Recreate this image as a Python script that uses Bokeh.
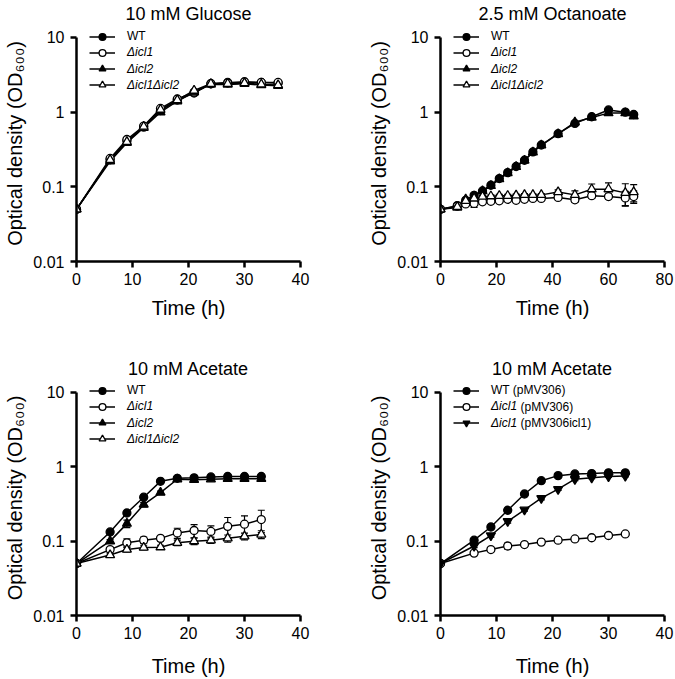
from bokeh.plotting import figure
from bokeh.models import (ColumnDataSource, Range1d, FixedTicker, Legend, LegendItem,
                          Whisker, TeeHead, Label)
from bokeh.layouts import column, row
from bokeh.embed import file_html
from bokeh.resources import INLINE

FONT = "Liberation Sans"

# ---------------- data ----------------
glu_t = [0, 6, 9, 12, 15, 18, 21, 24, 27, 30, 33, 36]
glu_wt = [0.05, 0.23, 0.41, 0.63, 1.05, 1.45, 1.80, 2.40, 2.50, 2.50, 2.50, 2.45]
glu_icl1 = [0.05, 0.24, 0.43, 0.65, 1.12, 1.50, 1.85, 2.40, 2.45, 2.55, 2.50, 2.50]
glu_icl2 = [0.05, 0.22, 0.39, 0.62, 1.00, 1.40, 1.85, 2.35, 2.35, 2.40, 2.30, 2.25]
glu_dko = [0.05, 0.23, 0.40, 0.64, 1.08, 1.45, 1.95, 2.40, 2.40, 2.45, 2.35, 2.30]
glu_wt_err = [0, 0.01, 0.02, 0.02, 0.04, 0.05, 0.06, 0.08, 0.10, 0.20, 0.10, 0.10]
glu_icl1_err = [0, 0.01, 0.02, 0.02, 0.04, 0.05, 0.06, 0.08, 0.10, 0.15, 0.10, 0.10]
glu_icl2_err = [0, 0.01, 0.02, 0.02, 0.04, 0.05, 0.06, 0.08, 0.10, 0.15, 0.10, 0.10]
glu_dko_err = [0, 0.01, 0.02, 0.02, 0.04, 0.05, 0.06, 0.08, 0.10, 0.15, 0.10, 0.10]

oct_t = [0, 6, 9, 12, 15, 18, 21, 24, 27, 30, 33, 36, 42, 48, 54, 60, 66, 69]
oct_wt = [0.05, 0.056, 0.066, 0.077, 0.088, 0.105, 0.129, 0.155, 0.187, 0.227, 0.293,
          0.363, 0.514, 0.706, 0.867, 1.07, 1.00, 0.93]
oct_icl1 = [0.05, 0.055, 0.059, 0.060, 0.063, 0.064, 0.065, 0.068, 0.066, 0.068, 0.070,
            0.070, 0.072, 0.067, 0.076, 0.074, 0.071, 0.074]
oct_icl2 = [0.05, 0.053, 0.068, 0.075, 0.088, 0.103, 0.127, 0.153, 0.185, 0.225, 0.29,
            0.36, 0.51, 0.73, 0.85, 0.97, 0.97, 0.88]
oct_dko = [0.05, 0.054, 0.065, 0.070, 0.074, 0.075, 0.076, 0.076, 0.077, 0.078, 0.078,
           0.078, 0.085, 0.078, 0.093, 0.093, 0.083, 0.085]
oct_wt_err = [0, 0, 0, 0, 0, 0, 0, 0, 0, 0, 0, 0, 0.01, 0.02, 0.04, 0.05, 0.04, 0.04]
oct_icl1_err = [0, 0, 0.003, 0.007, 0.003, 0.003, 0.003, 0.003, 0.003, 0.003, 0.003,
                0.003, 0.004, 0.005, 0.006, 0.006, 0.016, 0.014]
oct_icl2_err = [0, 0, 0, 0, 0, 0, 0, 0, 0, 0, 0, 0, 0.01, 0.02, 0.04, 0.05, 0.04, 0.05]
oct_dko_err = [0, 0, 0.003, 0.004, 0.003, 0.003, 0.003, 0.003, 0.003, 0.003, 0.003,
               0.003, 0.006, 0.010, 0.016, 0.020, 0.027, 0.022]

ace_t = [0, 6, 9, 12, 15, 18, 21, 24, 27, 30, 33]
ace_wt = [0.05, 0.133, 0.239, 0.39, 0.637, 0.70, 0.71, 0.73, 0.74, 0.74, 0.74]
ace_icl1 = [0.05, 0.077, 0.095, 0.103, 0.109, 0.129, 0.139, 0.135, 0.158, 0.169, 0.195]
ace_icl2 = [0.05, 0.100, 0.172, 0.31, 0.45, 0.68, 0.67, 0.68, 0.69, 0.69, 0.69]
ace_dko = [0.05, 0.065, 0.077, 0.082, 0.083, 0.095, 0.100, 0.103, 0.109, 0.116, 0.123]
ace_wt_err = [0, 0.005, 0.01, 0.02, 0.03, 0.03, 0.03, 0.03, 0.03, 0.03, 0.03]
ace_icl1_err = [0, 0.005, 0.012, 0.010, 0.008, 0.020, 0.028, 0.025, 0.050, 0.050, 0.065]
ace_icl2_err = [0, 0.005, 0.02, 0.02, 0.02, 0.03, 0.05, 0.03, 0.03, 0.03, 0.03]
ace_dko_err = [0, 0.004, 0.006, 0.006, 0.005, 0.008, 0.010, 0.010, 0.012, 0.012, 0.015]

comp_t = [0, 6, 9, 12, 15, 18, 21, 24, 27, 30, 33]
comp_wt = [0.05, 0.103, 0.155, 0.26, 0.43, 0.65, 0.76, 0.80, 0.81, 0.83, 0.83]
comp_icl1 = [0.05, 0.069, 0.077, 0.086, 0.090, 0.097, 0.103, 0.107, 0.111, 0.119, 0.125]
comp_icl1c = [0.05, 0.086, 0.119, 0.185, 0.264, 0.378, 0.50, 0.68, 0.71, 0.74, 0.75]
comp_wt_err = [0, 0.004, 0.006, 0.01, 0.01, 0.02, 0.02, 0.02, 0.02, 0.02, 0.02]
comp_icl1_err = [0, 0.003, 0.003, 0.008, 0.003, 0.003, 0.003, 0.003, 0.003, 0.003, 0.003]
comp_icl1c_err = [0, 0.004, 0.006, 0.01, 0.01, 0.02, 0.02, 0.03, 0.02, 0.02, 0.02]

y_ticks = [0.01, 0.1, 1, 10]
y_tick_labels = ["0.01", "0.1", "1", "10"]

titles = ["10 mM Glucose", "2.5 mM Octanoate", "10 mM Acetate", "10 mM Acetate"]
x_label = "Time (h)"
y_label = "Optical density (OD\u2086\u2080\u2080)"
labels4 = ["WT", "\u0394icl1", "\u0394icl2", "\u0394icl1\u0394icl2"]
labels_comp = ["WT (pMV306)", "\u0394icl1", "\u0394icl1"]
labels_comp_suffix = ["", "(pMV306)", "(pMV306icl1)"]

DECADE_PX = 75          # pixels per decade on the y axis
HEADROOM = 0.16         # extra decades above the "10" tick (room for the legend)
FRAME_H = int(round(DECADE_PX * (3 + HEADROOM)))
TOP_LEVEL = 3 * DECADE_PX   # pixel height of the "10" tick above the frame bottom
ROW_STEP = 16.3
GLYPH_H = 17


def make_panel(title, t, series, xmax, xticks, width, height, bl, br, bt, bb, xstand):
    p = figure(width=width, height=height, x_range=Range1d(0, xmax),
               y_range=Range1d(0.01, 10 ** (1 + HEADROOM)), y_axis_type="log",
               output_backend="svg", toolbar_location=None,
               min_border_left=bl, min_border_right=br,
               min_border_top=bt, min_border_bottom=bb, title=title)
    p.outline_line_color = None
    p.xgrid.visible = False
    p.ygrid.visible = False
    p.background_fill_color = "white"
    p.border_fill_color = "white"
    p.title.text_font = FONT
    p.title.text_font_size = "18px"
    p.title.text_font_style = "normal"
    p.title.text_color = "black"
    p.title.align = "center"
    p.title.standoff = 3
    for ax in (p.xaxis[0], p.yaxis[0]):
        ax.axis_line_width = 2.5
        ax.axis_line_color = "black"
        ax.major_tick_line_width = 2.5
        ax.major_tick_line_color = "black"
        ax.major_tick_out = 6
        ax.major_tick_in = 0
        ax.minor_tick_line_color = None
        ax.major_label_text_font = FONT
        ax.major_label_text_font_size = "16px"
        ax.major_label_text_color = "black"
        ax.axis_label_text_font = FONT
        ax.axis_label_text_font_size = "20px"
        ax.axis_label_text_font_style = "normal"
        ax.axis_label_text_color = "black"
    p.xaxis.ticker = FixedTicker(ticks=xticks)
    p.xaxis.axis_label = x_label
    p.xaxis.major_label_standoff = 5
    p.xaxis.axis_label_standoff = xstand
    p.yaxis.ticker = FixedTicker(ticks=y_ticks)
    p.yaxis.bounds = (0.01, 10)
    p.yaxis.major_label_overrides = {k: v for k, v in zip(y_ticks, y_tick_labels)}
    p.yaxis.axis_label = y_label
    p.yaxis.major_label_standoff = 6
    p.yaxis.axis_label_standoff = 4

    renderers = []
    for (vals, errs, marker, filled, size) in series:
        src = ColumnDataSource(dict(t=t, v=vals,
                                    lo=[a - b for a, b in zip(vals, errs)],
                                    hi=[a + b for a, b in zip(vals, errs)]))
        ln = p.line("t", "v", source=src, line_color="black", line_width=1.5)
        renderers.append([ln, src, marker, filled, size])
    for r in renderers:
        src = r[1]
        w = Whisker(base="t", lower="lo", upper="hi", source=src,
                    line_color="black", line_width=1.2, level="underlay",
                    upper_head=TeeHead(size=7, line_width=1.2, line_color="black"),
                    lower_head=TeeHead(size=7, line_width=1.2, line_color="black"))
        p.add_layout(w)
    for r in renderers:
        ln, src, marker, filled, size = r
        sc = p.scatter("t", "v", source=src, marker=marker, size=size,
                       fill_color="black" if filled else "white",
                       line_color="black", line_width=1.3)
        r.append(sc)
    return p, renderers


def add_legend(p, renderers, labels, italics):
    for i, (r, lab, it) in enumerate(zip(renderers, labels, italics)):
        ln, sc = r[0], r[5]
        lg = Legend(items=[LegendItem(label=lab, renderers=[ln, sc])],
                    location=(13, TOP_LEVEL - GLYPH_H / 2 - ROW_STEP * i),
                    glyph_width=26, glyph_height=GLYPH_H, label_height=GLYPH_H,
                    label_standoff=12, padding=0, margin=0, spacing=0,
                    border_line_color=None, background_fill_alpha=0,
                    label_text_font=FONT, label_text_font_size="12px",
                    label_text_font_style="italic" if it else "normal",
                    label_text_color="black")
        p.add_layout(lg)


std4 = [("circle", True, 8), ("circle", False, 8), ("triangle", True, 9), ("triangle", False, 9)]

# layout (page origin is the top-left corner of the window)
W_LEFT, W_RIGHT = 330, 345
H_TOP, H_BOT = 330, 349
BL_L, BR_L = 76, W_LEFT - 76 - 224
BL_R, BR_R = 110, W_RIGHT - 110 - 224
BT_T, BB_T = 24, H_TOP - 24 - FRAME_H
BT_B, BB_B = 50, H_BOT - 50 - FRAME_H

p1, r1 = make_panel(titles[0], glu_t,
                    [(glu_wt, glu_wt_err) + std4[0], (glu_icl1, glu_icl1_err) + std4[1],
                     (glu_icl2, glu_icl2_err) + std4[2], (glu_dko, glu_dko_err) + std4[3]],
                    40, [0, 10, 20, 30, 40], W_LEFT, H_TOP, BL_L, BR_L, BT_T, BB_T, 9)
add_legend(p1, r1, labels4, [False, True, True, True])

p2, r2 = make_panel(titles[1], oct_t,
                    [(oct_wt, oct_wt_err) + std4[0], (oct_icl1, oct_icl1_err) + std4[1],
                     (oct_icl2, oct_icl2_err) + std4[2], (oct_dko, oct_dko_err) + std4[3]],
                    80, [0, 20, 40, 60, 80], W_RIGHT, H_TOP, BL_R, BR_R, BT_T, BB_T, 9)
add_legend(p2, r2, labels4, [False, True, True, True])

p3, r3 = make_panel(titles[2], ace_t,
                    [(ace_wt, ace_wt_err) + std4[0], (ace_icl1, ace_icl1_err) + std4[1],
                     (ace_icl2, ace_icl2_err) + std4[2], (ace_dko, ace_dko_err) + std4[3]],
                    40, [0, 10, 20, 30, 40], W_LEFT, H_BOT, BL_L, BR_L, BT_B, BB_B, 13)
add_legend(p3, r3, labels4, [False, True, True, True])

p4, r4 = make_panel(titles[3], comp_t,
                    [(comp_wt, comp_wt_err) + std4[0], (comp_icl1, comp_icl1_err) + std4[1],
                     (comp_icl1c, comp_icl1c_err, "inverted_triangle", True, 9)],
                    40, [0, 10, 20, 30, 40], W_RIGHT, H_BOT, BL_R, BR_R, BT_B, BB_B, 13)
add_legend(p4, r4, labels_comp, [False, True, True])
for i, suf in enumerate(labels_comp_suffix):
    if suf:
        p4.add_layout(Label(x=80, y=TOP_LEVEL - ROW_STEP * i, x_units="screen", y_units="screen",
                            text=suf, text_baseline="middle", text_font=FONT,
                            text_font_size="12px", text_color="black"))

layout = column(row(p1, p2), row(p3, p4))
open("out.html", "w").write(file_html(layout, INLINE))
